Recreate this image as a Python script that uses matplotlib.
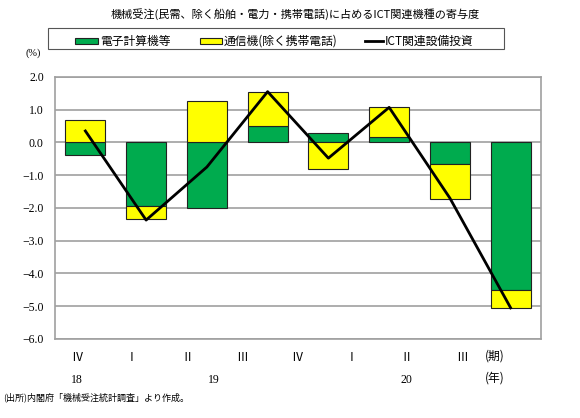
import numpy as np
import matplotlib.pyplot as plt
from matplotlib.patches import Rectangle
from matplotlib.lines import Line2D
from matplotlib.transforms import blended_transform_factory

plt.rcParams['font.family'] = ['Liberation Serif', 'Noto Sans CJK JP', 'DejaVu Sans']
JP = ['Noto Sans CJK JP', 'DejaVu Sans']

# data
quarters = ['Ⅳ', 'Ⅰ', 'Ⅱ', 'Ⅲ', 'Ⅳ', 'Ⅰ', 'Ⅱ', 'Ⅲ']
years = ['18', '19', '20']
year_pos = [0, 2.5, 6]           # which quarter label each year sits under
electronic = [-0.37, -1.93, -2.00, 0.50, 0.30, 0.18, -0.67, -4.50]
telecom = [0.70, -0.42, 1.25, 1.04, -0.80, 0.89, -1.06, -0.56]
ict_total = [0.35, -2.37, -0.75, 1.55, -0.48, 1.07, -1.70, -5.05]
series_names = ['電子計算機等', '通信機(除く携帯電話)', 'ICT関連設備投資']

title = '機械受注(民需、除く船舶・電力・携帯電話)に占めるICT関連機種の寄与度'
source = '(出所)内閣府「機械受注統計調査」より作成。'

green = '#00AB4E'
yellow = '#FFFF00'
edge = '#222222'
grid_col = '#A0A0A0'

W, H = 580, 418
x = np.arange(len(quarters))
electronic = np.array(electronic)
telecom = np.array(telecom)
# stack telecom on green when they have the same sign, otherwise from zero
tel_bottom = np.where(np.sign(telecom) == np.sign(electronic), electronic, 0)

fig = plt.figure(figsize=(W / 100, H / 100), dpi=100)
ax = fig.add_axes([0.0948, 0.189, 0.838, 0.627])

ax.bar(x, electronic, width=0.66, color=green, edgecolor=edge, linewidth=0.8, zorder=2)
ax.bar(x, telecom, bottom=tel_bottom, width=0.66, color=yellow, edgecolor=edge,
       linewidth=0.8, zorder=2)
ax.plot(x, ict_total, color='black', linewidth=2, zorder=3)

ax.set_xlim(-0.5, 7.5)
ax.set_ylim(-6, 2)
yt = np.arange(-6, 2.1, 1)
ax.set_yticks(yt)
ax.set_yticklabels([f'{v:.1f}'.replace('-', '−') for v in yt], fontsize=8.5)
ax.tick_params(axis='y', length=0, pad=8)
ax.set_xticks([])
ax.yaxis.grid(True, color=grid_col, linewidth=1.2, zorder=0)
ax.set_axisbelow(True)
for s in ax.spines.values():
    s.set_color(grid_col)
    s.set_linewidth(1.2)

# quarter / year labels (placed slightly tighter than the bars, like the original)
label_start, label_step = -0.14, 0.905
trans = blended_transform_factory(ax.transData, ax.transAxes)
for i, q in enumerate(quarters):
    ax.text(label_start + i * label_step, -0.07, q, transform=trans, ha='center',
            va='center', fontsize=8.5, family=JP)
for pos, yr in zip(year_pos, years):
    ax.text(label_start + pos * label_step, -0.155, yr, transform=trans, ha='center',
            va='center', fontsize=8.5)
fig.text(495 / W, 1 - 356 / H, '(期)', ha='center', va='center', fontsize=8.5, family=JP)
fig.text(495 / W, 1 - 378 / H, '(年)', ha='center', va='center', fontsize=8.5, family=JP)

fig.text(33 / W, 1 - 53 / H, '(%)', ha='center', va='center', fontsize=7.5)
fig.text(295 / W, 1 - 14 / H, title, ha='center', va='center', fontsize=8, family=JP)
fig.text(3 / W, 1 - 397 / H, source, ha='left', va='center', fontsize=6.5, family=JP)

# legend box drawn by hand so the uneven entry spacing matches
def px(xp, yp):
    return xp / W, 1 - yp / H

fig.patches.append(Rectangle(px(48, 49), 456 / W, 21 / H, transform=fig.transFigure,
                             facecolor='white', edgecolor='#555555', linewidth=0.8))
for (x0, x1), col, name in zip([(75, 98), (200, 222), (365, 383)],
                               [green, yellow, None], series_names):
    if col is None:
        fig.lines.append(Line2D([x0 / W, x1 / W], [1 - 41 / H] * 2, transform=fig.transFigure,
                                color='black', linewidth=2))
    else:
        fig.patches.append(Rectangle(px(x0, 44), (x1 - x0) / W, 6 / H,
                                     transform=fig.transFigure, facecolor=col,
                                     edgecolor=edge, linewidth=0.8))
    fig.text((x1 + 2) / W, 1 - 41 / H, name, ha='left', va='center', fontsize=8.5, family=JP)

fig.savefig('out.png', dpi=100)
